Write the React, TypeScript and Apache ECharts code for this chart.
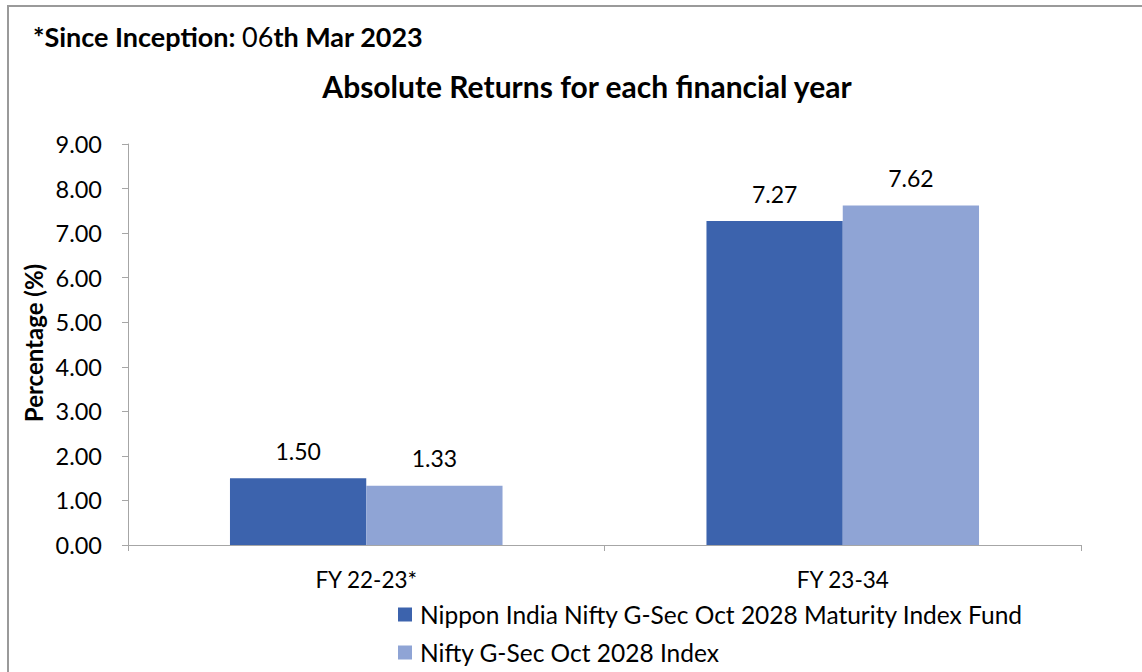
import React, { useEffect, useRef } from "react";
import * as echarts from "echarts";

const categories = ["FY 22-23*", "FY 23-34"];
const fundName = "Nippon India Nifty G-Sec Oct 2028 Maturity Index Fund";
const indexName = "Nifty G-Sec Oct 2028 Index";
const fundValues = [1.5, 7.27];
const indexValues = [1.33, 7.62];
const yMin = 0;
const yMax = 9;
const yInterval = 1;

const FONT = "Lato, 'Open Sans', sans-serif";

export default function App() {
  const ref = useRef<HTMLDivElement>(null);
  useEffect(() => {
    if (!ref.current) return;
    const chart = echarts.init(ref.current, null, { renderer: "svg" });
    const labelStyle = {
      show: true,
      position: "top" as const,
      distance: 16,
      formatter: (p: any) => Number(p.value).toFixed(2),
      fontFamily: FONT,
      fontSize: 23,
      color: "#000",
    };
    const legendBase = {
      orient: "horizontal" as const,
      left: 393,
      itemWidth: 14,
      itemHeight: 14,
      icon: "rect",
      textStyle: {
        fontFamily: FONT,
        fontSize: 24.5,
        lineHeight: 24,
        color: "#000",
        padding: [0, 0, 0, 3],
      },
    };
    chart.setOption({
      animation: false,
      backgroundColor: "#fff",
      textStyle: { fontFamily: FONT },
      title: [
        {
          text: "{b|*Since Inception: }{n|06}{b|th Mar 2023}",
          left: 28,
          top: 18,
          textStyle: {
            rich: {
              b: { fontFamily: FONT, fontSize: 27, fontWeight: "bold", color: "#000" },
              n: { fontFamily: FONT, fontSize: 27, fontWeight: "normal", color: "#000" },
            },
          },
        },
        {
          text: "Absolute Returns for each financial year",
          left: 582,
          top: 66,
          textAlign: "center",
          textStyle: { fontFamily: FONT, fontSize: 30, fontWeight: "bold", color: "#000" },
        },
      ],
      graphic: [
        {
          type: "rect",
          shape: { x: 8, y: 6, width: 1300, height: 800 },
          style: { fill: "none", stroke: "#9a9a9a", lineWidth: 2 },
          silent: true,
        },
        {
          type: "text",
          x: 33,
          y: 343,
          rotation: Math.PI / 2,
          style: {
            text: "Percentage (%)",
            fontFamily: FONT,
            fontSize: 24,
            fontWeight: "bold",
            fill: "#000",
            align: "center",
            verticalAlign: "middle",
          },
        },
      ],
      legend: [
        { ...legendBase, top: 597, data: [fundName] },
        { ...legendBase, top: 635, data: [indexName] },
      ],
      grid: { left: 128, right: 61, top: 144, bottom: 127, containLabel: false },
      xAxis: {
        type: "category",
        data: categories,
        axisLine: { show: true, lineStyle: { color: "#a6a6a6", width: 1 } },
        axisTick: { show: true, alignWithLabel: false, length: 6, lineStyle: { color: "#a6a6a6" } },
        axisLabel: { fontFamily: FONT, fontSize: 22.5, color: "#000", margin: 23 },
      },
      yAxis: {
        type: "value",
        min: yMin,
        max: yMax,
        interval: yInterval,
        splitLine: { show: false },
        axisLine: { show: true, lineStyle: { color: "#a6a6a6", width: 1 } },
        axisTick: { show: true, inside: false, length: 6, lineStyle: { color: "#a6a6a6" } },
        axisLabel: {
          fontFamily: FONT,
          fontSize: 23.5,
          color: "#000",
          margin: 26,
          formatter: (v: number) => v.toFixed(2),
        },
      },
      series: [
        {
          name: fundName,
          type: "bar",
          data: fundValues,
          barWidth: "28.6%",
          barGap: "0%",
          itemStyle: { color: "#3c63ad" },
          label: labelStyle,
        },
        {
          name: indexName,
          type: "bar",
          data: indexValues,
          barWidth: "28.6%",
          barGap: "0%",
          itemStyle: { color: "#8fa4d5" },
          label: labelStyle,
        },
      ],
    });
    return () => chart.dispose();
  }, []);
  return (
    <div
      ref={ref}
      style={{ position: "absolute", left: 0, top: 0, width: 1142, height: 672 }}
    />
  );
}
